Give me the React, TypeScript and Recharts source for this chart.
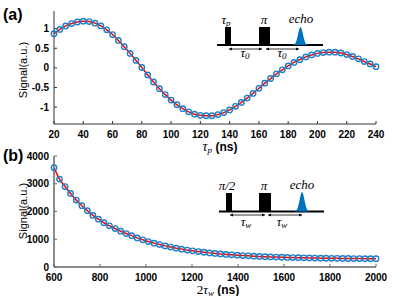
import React from 'react';
import { LineChart, Line, XAxis, YAxis } from 'recharts';

// ---------- Panel (a): Rabi-type oscillation vs pulse length ----------
const tpNs = [20, 24, 28, 32, 36, 40, 44, 48, 52, 56, 60, 64, 68, 72, 76, 80, 84, 88, 92, 96, 100, 104, 108, 112, 116, 120, 124, 128, 132, 136, 140, 144, 148, 152, 156, 160, 164, 168, 172, 176, 180, 184, 188, 192, 196, 200, 204, 208, 212, 216, 220, 224, 228, 232, 236, 240];
const tpSignal = [0.87, 0.98, 1.07, 1.13, 1.17, 1.19, 1.18, 1.14, 1.07, 0.97, 0.85, 0.7, 0.54, 0.37, 0.19, 0.01, -0.18, -0.36, -0.53, -0.68, -0.82, -0.94, -1.04, -1.12, -1.18, -1.21, -1.22, -1.22, -1.19, -1.14, -1.07, -0.98, -0.88, -0.77, -0.65, -0.52, -0.39, -0.27, -0.15, -0.05, 0.05, 0.14, 0.21, 0.28, 0.33, 0.37, 0.39, 0.4, 0.4, 0.38, 0.34, 0.29, 0.23, 0.16, 0.1, 0.03];
const tpTicks = [20, 40, 60, 80, 100, 120, 140, 160, 180, 200, 220, 240];
const tpSignalTicks = [-1, -0.5, 0, 0.5, 1];

// ---------- Panel (b): echo decay vs 2*tau_w ----------
const twNs = [600, 624, 648, 672, 697, 721, 745, 769, 793, 817, 841, 866, 890, 914, 938, 962, 986, 1010, 1035, 1059, 1083, 1107, 1131, 1155, 1179, 1203, 1228, 1252, 1276, 1300, 1324, 1348, 1372, 1397, 1421, 1445, 1469, 1493, 1517, 1541, 1566, 1590, 1614, 1638, 1662, 1686, 1710, 1734, 1759, 1783, 1807, 1831, 1855, 1879, 1903, 1928, 1952, 1976, 2000];
const twSignal = [3580, 3170, 2900, 2650, 2410, 2210, 2030, 1860, 1725, 1595, 1485, 1385, 1290, 1205, 1130, 1048, 979, 917, 860, 808, 761, 718, 679, 644, 611, 582, 555, 531, 509, 489, 470, 454, 439, 425, 412, 401, 390, 381, 372, 364, 357, 351, 345, 339, 335, 330, 326, 322, 319, 316, 313, 311, 308, 306, 304, 303, 301, 300, 298];
const twTicks = [600, 800, 1000, 1200, 1400, 1600, 1800, 2000];
const twSignalTicks = [0, 1000, 2000, 3000, 4000];

const rabiData = tpNs.map((x, i) => ({ x, y: tpSignal[i] }));
const echoData = twNs.map((x, i) => ({ x, y: twSignal[i] }));

const SANS = "'Liberation Sans', Arial, Helvetica, sans-serif";
const SERIF = "'Liberation Serif', 'DejaVu Serif', 'Times New Roman', serif";
const BLUE = '#1f7fc6';
const RED = '#ff0000';

const X_MARGIN = 6.5;
const Y_MARGIN = 5;

const makeXTick = (color: string) => (props: any) => {
  const { x, y, payload } = props;
  const axisY = y - X_MARGIN;
  return (
    <g>
      <line x1={x} x2={x} y1={axisY} y2={axisY - 3} stroke={color} strokeWidth={1} />
      <text x={x} y={y} dy="0.71em" textAnchor="middle" fontFamily={SANS} fontWeight="bold" fontSize={10} fill="#000">
        {payload.value}
      </text>
    </g>
  );
};

const makeYTick = (color: string) => (props: any) => {
  const { x, y, payload } = props;
  const axisX = x + Y_MARGIN;
  return (
    <g>
      <line x1={axisX} x2={axisX + 3} y1={y} y2={y} stroke={color} strokeWidth={1} />
      <text x={x} y={y} dy="0.355em" textAnchor="end" fontFamily={SANS} fontWeight="bold" fontSize={10} fill="#000">
        {payload.value}
      </text>
    </g>
  );
};

const circleDot = (props: any) => {
  const { cx, cy, index } = props;
  if (cx == null || cy == null) return <g key={index} />;
  return <circle key={index} cx={cx} cy={cy} r={2.7} fill="none" stroke={BLUE} strokeWidth={1.4} />;
};

function gaussPath(cx: number, base: number, peak: number, sigma: number, half: number) {
  const pts: string[] = [];
  for (let i = -half; i <= half; i += 0.5) {
    const yy = base - (base - peak) * Math.exp(-(i * i) / (2 * sigma * sigma));
    pts.push(`${cx + i},${yy}`);
  }
  return `M${cx - half},${base} L${pts.join(' L')} L${cx + half},${base} Z`;
}

const Arrow = ({ x1, x2, y }: { x1: number; x2: number; y: number }) => (
  <g>
    <line x1={x1} x2={x2} y1={y} y2={y} stroke="#000" strokeWidth={0.8} />
    <path d={`M${x1},${y} l3,-1.5 l0,3 Z`} fill="#000" />
    <path d={`M${x2},${y} l-3,-1.5 l0,3 Z`} fill="#000" />
  </g>
);

export default function App() {
  const topColor = '#333';
  const botColor = '#666';
  return (
    <div style={{ position: 'absolute', left: 0, top: 0, width: 415, height: 296, background: '#fff', overflow: 'hidden' }}>
      <div style={{ position: 'absolute', left: 0, top: 0 }}>
        <LineChart width={415} height={150} data={rabiData} margin={{ top: 11, right: 39, bottom: 0, left: 0 }}>
          <XAxis dataKey="x" type="number" domain={[20, 240]} ticks={tpTicks} height={26} tickSize={0} tickMargin={X_MARGIN}
            axisLine={{ stroke: topColor }} tickLine={false} tick={makeXTick(topColor)} interval={0} />
          <XAxis xAxisId="top" dataKey="x" type="number" orientation="top" domain={[20, 240]} height={0} tick={false} tickLine={false}
            axisLine={{ stroke: topColor }} />
          <YAxis type="number" domain={[-1.43, 1.45]} ticks={tpSignalTicks} width={54} tickSize={0} tickMargin={Y_MARGIN}
            axisLine={{ stroke: topColor }} tickLine={false} tick={makeYTick(topColor)} interval={0} />
          <YAxis yAxisId="right" type="number" orientation="right" domain={[-1.43, 1.45]} width={0} tick={false} tickLine={false}
            axisLine={{ stroke: topColor }} />
          <Line dataKey="y" stroke="none" dot={circleDot} isAnimationActive={false} activeDot={false} />
          <Line dataKey="y" type="monotone" stroke={RED} strokeWidth={1.5} dot={false} isAnimationActive={false} activeDot={false} />
        </LineChart>
      </div>
      <div style={{ position: 'absolute', left: 0, top: 140 }}>
        <LineChart width={415} height={156} data={echoData} margin={{ top: 16, right: 39, bottom: 0, left: 0 }}>
          <XAxis dataKey="x" type="number" domain={[600, 2000]} ticks={twTicks} height={29} tickSize={0} tickMargin={X_MARGIN}
            axisLine={{ stroke: botColor, strokeWidth: 1.5 }} tickLine={false} tick={makeXTick(botColor)} interval={0} />
          <XAxis xAxisId="top" dataKey="x" type="number" orientation="top" domain={[600, 2000]} height={0} tick={false} tickLine={false}
            axisLine={{ stroke: botColor, strokeWidth: 1.5 }} />
          <YAxis type="number" domain={[0, 4000]} ticks={twSignalTicks} width={54} tickSize={0} tickMargin={Y_MARGIN}
            axisLine={{ stroke: botColor, strokeWidth: 1.5 }} tickLine={false} tick={makeYTick(botColor)} interval={0} />
          <YAxis yAxisId="right" type="number" orientation="right" domain={[0, 4000]} width={0} tick={false} tickLine={false}
            axisLine={{ stroke: botColor, strokeWidth: 1.5 }} />
          <Line dataKey="y" stroke="none" dot={circleDot} isAnimationActive={false} activeDot={false} />
          <Line dataKey="y" type="monotone" stroke={RED} strokeWidth={1.5} dot={false} isAnimationActive={false} activeDot={false} />
        </LineChart>
      </div>
      <svg width={415} height={296} style={{ position: 'absolute', left: 0, top: 0, pointerEvents: 'none' }}>
        {/* panel letters */}
        <text x={3} y={20} fontFamily={SANS} fontWeight="bold" fontSize={16} fill="#000">(a)</text>
        <text x={3} y={161} fontFamily={SANS} fontWeight="bold" fontSize={16} fill="#000">(b)</text>

        {/* y labels */}
        <text transform="translate(27,70) rotate(-90)" textAnchor="middle" fontFamily={SANS} fontSize={11} fill="#000">Signal(a.u.)</text>
        <text transform="translate(27,211) rotate(-90)" textAnchor="middle" fontFamily={SANS} fontSize={11} fill="#000">Signal(a.u.)</text>

        {/* x labels */}
        <text x={220} y={151} textAnchor="middle" fill="#000">
          <tspan fontFamily={SERIF} fontStyle="italic" fontSize={14}>τ</tspan>
          <tspan fontFamily={SERIF} fontStyle="italic" fontSize={9} dy={2}>p</tspan>
          <tspan fontFamily={SANS} fontWeight="bold" fontSize={12} dy={-2}>{'  (ns)'}</tspan>
        </text>
        <text x={218} y={294} textAnchor="middle" fill="#000">
          <tspan fontFamily={SERIF} fontSize={13}>2</tspan>
          <tspan fontFamily={SERIF} fontStyle="italic" fontSize={13}>τ</tspan>
          <tspan fontFamily={SERIF} fontStyle="italic" fontSize={9} dy={1.5}>w</tspan>
          <tspan fontFamily={SANS} fontWeight="bold" fontSize={12} dy={-1.5}>{' (ns)'}</tspan>
        </text>

        {/* inset (a) */}
        <line x1={217} x2={323} y1={45} y2={45} stroke="#000" strokeWidth={2} />
        <rect x={225} y={27} width={6} height={18} fill="#000" />
        <rect x={259} y={27} width={11} height={18} fill="#000" />
        <path d={gaussPath(300.5, 45, 27, 2.4, 9)} fill="#0072BD" />
        <Arrow x1={229} x2={262} y={49} />
        <Arrow x1={266} x2={299} y={49} />
        <text x={226} y={24} textAnchor="middle" fill="#000" fontFamily={SERIF} fontStyle="italic">
          <tspan fontSize={13}>τ</tspan><tspan fontSize={9} dy={2}>p</tspan>
        </text>
        <text x={264} y={24} textAnchor="middle" fill="#000" fontFamily={SERIF} fontStyle="italic" fontSize={13}>π</text>
        <text x={301} y={23} textAnchor="middle" fill="#000" fontFamily={SERIF} fontStyle="italic" fontSize={13}>echo</text>
        <text x={245} y={57} textAnchor="middle" fill="#000" fontFamily={SERIF} fontStyle="italic">
          <tspan fontSize={13}>τ</tspan><tspan fontSize={9} dy={2}>0</tspan>
        </text>
        <text x={282} y={57} textAnchor="middle" fill="#000" fontFamily={SERIF} fontStyle="italic">
          <tspan fontSize={13}>τ</tspan><tspan fontSize={9} dy={2}>0</tspan>
        </text>

        {/* inset (b) */}
        <line x1={219} x2={324} y1={211.5} y2={211.5} stroke="#000" strokeWidth={2} />
        <rect x={226} y={193} width={6} height={18.5} fill="#000" />
        <rect x={259} y={193} width={12} height={18.5} fill="#000" />
        <path d={gaussPath(302, 211.5, 192, 2.4, 9)} fill="#0072BD" />
        <Arrow x1={230} x2={265} y={215} />
        <Arrow x1={268} x2={302} y={215} />
        <text x={227} y={190} textAnchor="middle" fill="#000" fontFamily={SERIF} fontStyle="italic" fontSize={13}>π/2</text>
        <text x={264} y={190} textAnchor="middle" fill="#000" fontFamily={SERIF} fontStyle="italic" fontSize={13}>π</text>
        <text x={302} y={189} textAnchor="middle" fill="#000" fontFamily={SERIF} fontStyle="italic" fontSize={13}>echo</text>
        <text x={246} y={226} textAnchor="middle" fill="#000" fontFamily={SERIF} fontStyle="italic">
          <tspan fontSize={13}>τ</tspan><tspan fontSize={9} dy={2}>w</tspan>
        </text>
        <text x={282} y={226} textAnchor="middle" fill="#000" fontFamily={SERIF} fontStyle="italic">
          <tspan fontSize={13}>τ</tspan><tspan fontSize={9} dy={2}>w</tspan>
        </text>
      </svg>
    </div>
  );
}
